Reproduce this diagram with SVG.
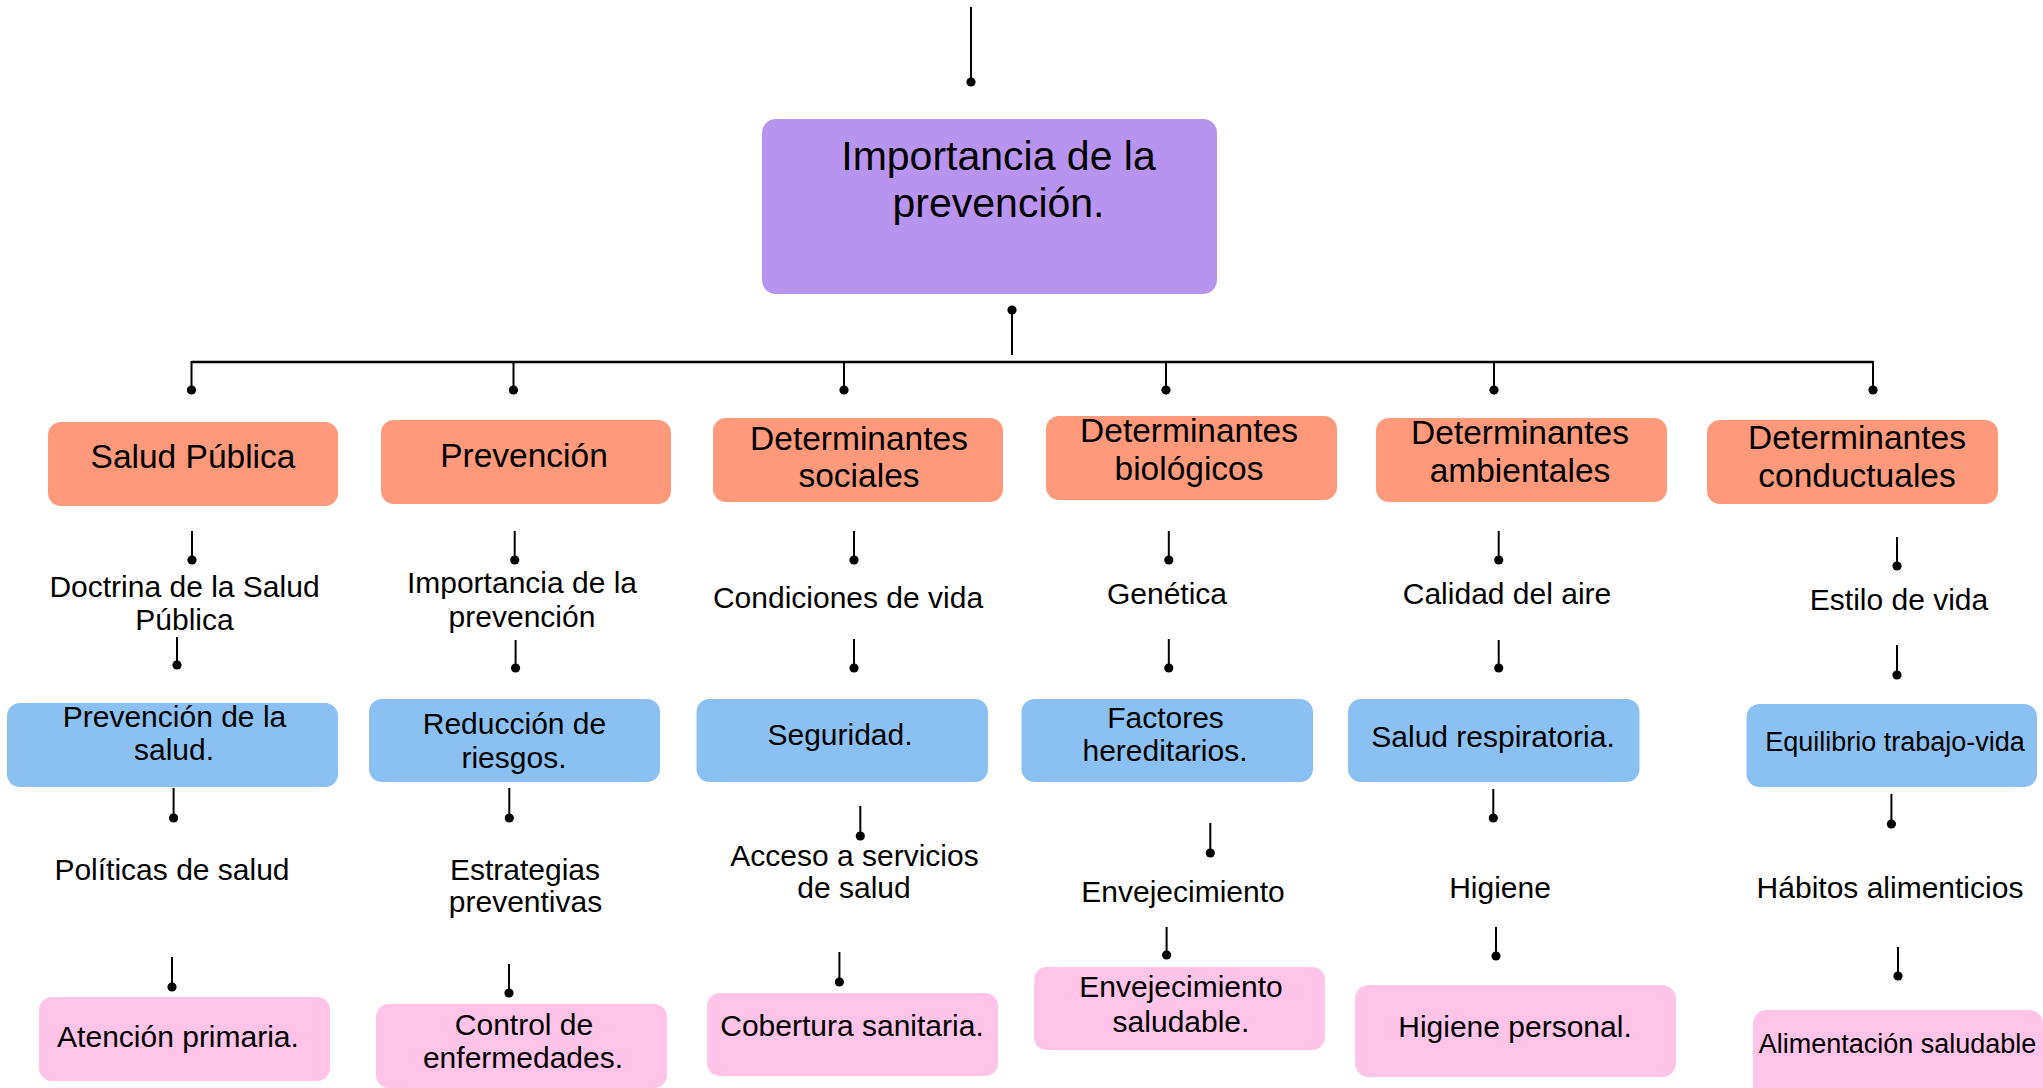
<svg xmlns="http://www.w3.org/2000/svg" width="2043" height="1088" viewBox="0 0 2043 1088">
<defs>
<style>
text{font-family:"Liberation Sans",Arial,sans-serif;fill:#000;text-anchor:middle}
.t0{font-size:41px}
.t1{font-size:33.5px}
.t2{font-size:30px}
.t3{font-size:27px}
.main{fill:#b794ee}
.hdr{fill:#fe997b}
.blu{fill:#8bc0f3}
.pnk{fill:#ffc4e7}
.ln{stroke:#000;stroke-width:2;fill:none;marker-end:url(#dot)}
.bus{stroke:#000;stroke-width:2.6;fill:none}
</style>
<marker id="dot" viewBox="-5 -5 10 10" refX="0" refY="0" markerWidth="10" markerHeight="10" markerUnits="userSpaceOnUse" orient="auto">
<circle r="4.6" fill="#000"/>
</marker>
</defs>
<rect width="2043" height="1088" fill="#fff"/>
<g id="connectors">
<line class="ln" x1="971" y1="7" x2="971" y2="82"/>
<line class="ln" x1="1012" y1="355" x2="1012" y2="310"/>
<line class="bus" x1="191.5" y1="362" x2="1873" y2="362"/>
<line class="ln" x1="191.5" y1="361" x2="191.5" y2="390"/>
<line class="ln" x1="513.5" y1="362" x2="513.5" y2="390"/>
<line class="ln" x1="844" y1="362" x2="844" y2="390"/>
<line class="ln" x1="1166" y1="362" x2="1166" y2="390"/>
<line class="ln" x1="1494" y1="362" x2="1494" y2="390"/>
<line class="ln" x1="1873" y1="361" x2="1873" y2="390"/>
<line class="ln" x1="192" y1="531" x2="192" y2="560"/>
<line class="ln" x1="177" y1="637" x2="177" y2="665"/>
<line class="ln" x1="173.6" y1="788" x2="173.6" y2="818"/>
<line class="ln" x1="172" y1="957" x2="172" y2="987"/>
<line class="ln" x1="514.7" y1="531" x2="514.7" y2="560"/>
<line class="ln" x1="515.6" y1="640" x2="515.6" y2="668"/>
<line class="ln" x1="509.3" y1="788" x2="509.3" y2="818"/>
<line class="ln" x1="509" y1="964" x2="509" y2="993"/>
<line class="ln" x1="854" y1="531" x2="854" y2="560"/>
<line class="ln" x1="854" y1="639" x2="854" y2="668"/>
<line class="ln" x1="860.3" y1="806" x2="860.3" y2="836"/>
<line class="ln" x1="839.4" y1="952" x2="839.4" y2="982"/>
<line class="ln" x1="1168.8" y1="531" x2="1168.8" y2="560"/>
<line class="ln" x1="1168.8" y1="639" x2="1168.8" y2="668"/>
<line class="ln" x1="1210.3" y1="823" x2="1210.3" y2="853"/>
<line class="ln" x1="1166.6" y1="927" x2="1166.6" y2="955"/>
<line class="ln" x1="1498.7" y1="531" x2="1498.7" y2="560"/>
<line class="ln" x1="1498.7" y1="640" x2="1498.7" y2="668"/>
<line class="ln" x1="1493.3" y1="789" x2="1493.3" y2="818"/>
<line class="ln" x1="1496" y1="927" x2="1496" y2="956"/>
<line class="ln" x1="1897" y1="537" x2="1897" y2="566"/>
<line class="ln" x1="1897" y1="645" x2="1897" y2="675"/>
<line class="ln" x1="1891.4" y1="794" x2="1891.4" y2="824"/>
<line class="ln" x1="1898" y1="947" x2="1898" y2="976"/>
</g>
<g id="main"><rect class="main" x="762" y="119" width="455" height="175" rx="14"/><text class="t0" x="998.5" y="170">Importancia de la</text><text class="t0" x="998.5" y="217">prevención.</text></g>
<g id="h1"><rect class="hdr" x="48" y="422" width="290" height="84" rx="13"/><text class="t1" x="193" y="468">Salud Pública</text></g>
<g id="h2"><rect class="hdr" x="381" y="420" width="290" height="84" rx="13"/><text class="t1" x="524" y="467">Prevención</text></g>
<g id="h3"><rect class="hdr" x="713" y="418" width="290" height="84" rx="13"/><text class="t1" x="859" y="450">Determinantes</text><text class="t1" x="859" y="487">sociales</text></g>
<g id="h4"><rect class="hdr" x="1046" y="416" width="291" height="84" rx="13"/><text class="t1" x="1189" y="442">Determinantes</text><text class="t1" x="1189" y="480">biológicos</text></g>
<g id="h5"><rect class="hdr" x="1376" y="418" width="291" height="84" rx="13"/><text class="t1" x="1520" y="444">Determinantes</text><text class="t1" x="1520" y="482">ambientales</text></g>
<g id="h6"><rect class="hdr" x="1707" y="420" width="291" height="84" rx="13"/><text class="t1" x="1857" y="449">Determinantes</text><text class="t1" x="1857" y="487">conductuales</text></g>
<g id="a1"><text class="t2" x="184.5" y="597">Doctrina de la Salud</text><text class="t2" x="184.5" y="630">Pública</text></g>
<g id="a2"><text class="t2" x="522" y="593">Importancia de la</text><text class="t2" x="522" y="627">prevención</text></g>
<g id="a3"><text class="t2" x="848" y="608">Condiciones de vida</text></g>
<g id="a4"><text class="t2" x="1167" y="604">Genética</text></g>
<g id="a5"><text class="t2" x="1507" y="604">Calidad del aire</text></g>
<g id="a6"><text class="t2" x="1899" y="610">Estilo de vida</text></g>
<g id="b1"><rect class="blu" x="7" y="703" width="331" height="84" rx="13"/><text class="t2" x="174.5" y="727">Prevención de la</text><text class="t2" x="174" y="760">salud.</text></g>
<g id="b2"><rect class="blu" x="369" y="699" width="291" height="83" rx="13"/><text class="t2" x="514.5" y="734">Reducción de</text><text class="t2" x="514" y="768">riesgos.</text></g>
<g id="b3"><rect class="blu" x="696.5" y="699" width="291.5" height="83" rx="13"/><text class="t2" x="840" y="745">Seguridad.</text></g>
<g id="b4"><rect class="blu" x="1021.5" y="699" width="291.5" height="83" rx="13"/><text class="t2" x="1165.5" y="728">Factores</text><text class="t2" x="1165" y="761">hereditarios.</text></g>
<g id="b5"><rect class="blu" x="1348" y="699" width="291.5" height="83" rx="13"/><text class="t2" x="1493" y="747">Salud respiratoria.</text></g>
<g id="b6"><rect class="blu" x="1746.5" y="704" width="290.5" height="83" rx="13"/><text class="t3" x="1895" y="751">Equilibrio trabajo-vida</text></g>
<g id="c1"><text class="t2" x="172" y="880">Políticas de salud</text></g>
<g id="c2"><text class="t2" x="525" y="880">Estrategias</text><text class="t2" x="525.5" y="912">preventivas</text></g>
<g id="c3"><text class="t2" x="854.5" y="866">Acceso a servicios</text><text class="t2" x="854" y="898">de salud</text></g>
<g id="c4"><text class="t2" x="1183" y="902">Envejecimiento</text></g>
<g id="c5"><text class="t2" x="1500" y="898">Higiene</text></g>
<g id="c6"><text class="t2" x="1890" y="898">Hábitos alimenticios</text></g>
<g id="p1"><rect class="pnk" x="39" y="997" width="291" height="84" rx="13"/><text class="t2" x="178" y="1047">Atención primaria.</text></g>
<g id="p2"><rect class="pnk" x="376" y="1004" width="291" height="84" rx="13"/><text class="t2" x="524" y="1035">Control de</text><text class="t2" x="523" y="1068">enfermedades.</text></g>
<g id="p3"><rect class="pnk" x="707" y="993" width="291" height="83" rx="13"/><text class="t2" x="852" y="1036">Cobertura sanitaria.</text></g>
<g id="p4"><rect class="pnk" x="1034" y="967" width="291" height="83" rx="13"/><text class="t2" x="1181" y="997">Envejecimiento</text><text class="t2" x="1181" y="1032">saludable.</text></g>
<g id="p5"><rect class="pnk" x="1355" y="985" width="321" height="92" rx="14"/><text class="t2" x="1515" y="1037">Higiene personal.</text></g>
<g id="p6"><rect class="pnk" x="1753" y="1010" width="290" height="95" rx="14"/><text class="t3" x="1897.5" y="1053">Alimentación saludable</text></g>
</svg>
